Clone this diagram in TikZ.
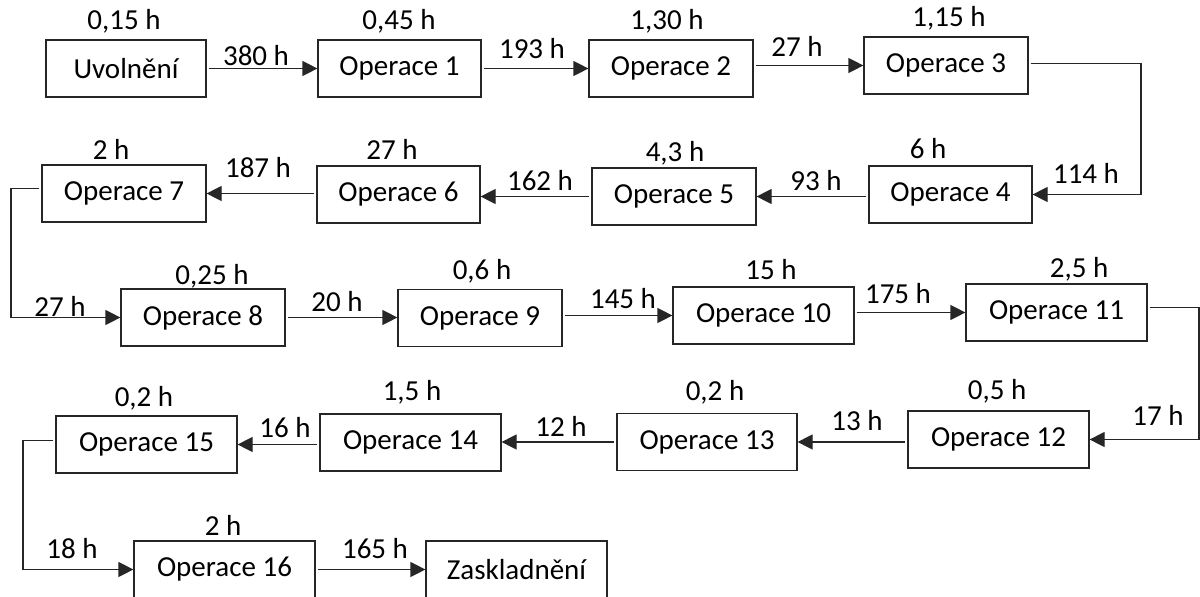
\documentclass[tikz,border=0pt]{standalone}
\usepackage{fontspec}
\setmainfont{Carlito}
\usetikzlibrary{arrows.meta}
\begin{document}
\begin{tikzpicture}[x=1pt,y=-1pt,
  box/.style={draw=black!85,line width=1.2pt,minimum height=57pt,inner sep=0pt,
    font=\fontsize{29}{34}\selectfont},
  lbl/.style={inner sep=0pt,font=\fontsize{29}{34}\selectfont},
  arr/.style={draw=black!85,line width=1.2pt,shorten <=2pt,-{Triangle[length=15pt,width=15pt]}}]
\useasboundingbox (0,0) rectangle (1200,597);
% row 1
\node[box,minimum width=160pt] (u)  at (126,68.5) {Uvolnění};
\node[box,minimum width=163pt] (o1) at (399.5,68.5) {Operace 1};
\node[box,minimum width=164pt] (o2) at (671,68.5) {Operace 2};
\node[box,minimum width=164pt] (o3) at (946,65.5) {Operace 3};
% row 2
\node[box,minimum width=163pt] (o4) at (950.5,194.5) {Operace 4};
\node[box,minimum width=164pt] (o5) at (674,196.5) {Operace 5};
\node[box,minimum width=163pt] (o6) at (398.5,194.5) {Operace 6};
\node[box,minimum width=164pt] (o7) at (124,193.5) {Operace 7};
% row 3
\node[box,minimum width=164pt] (o8)  at (203,317.5) {Operace 8};
\node[box,minimum width=164pt] (o9)  at (480,318) {Operace 9};
\node[box,minimum width=181pt] (o10) at (763.5,315.5) {Operace 10};
\node[box,minimum width=181pt] (o11) at (1056.5,312.5) {Operace 11};
% row 4
\node[box,minimum width=181pt] (o12) at (998.5,439.5) {Operace 12};
\node[box,minimum width=180pt] (o13) at (707,442) {Operace 13};
\node[box,minimum width=181pt] (o14) at (410.5,442.5) {Operace 14};
\node[box,minimum width=181pt] (o15) at (146.5,444.5) {Operace 15};
% row 5
\node[box,minimum width=181pt] (o16) at (224.5,569.5) {Operace 16};
\node[box,minimum width=181pt] (z)   at (516.5,569.5) {Zaskladnění};
% time labels above boxes
\node[lbl] (tu)  at (124,21) {0,15 h};
\node[lbl] (t1)  at (399,21) {0,45 h};
\node[lbl] (t2)  at (667,21) {1,30 h};
\node[lbl] (t3)  at (949,18) {1,15 h};
\node[lbl] (t4)  at (928,149) {6 h};
\node[lbl] (t5)  at (675,153) {4,3 h};
\node[lbl] (t6)  at (392,149) {27 h};
\node[lbl] (t7)  at (111,149) {2 h};
\node[lbl] (t8)  at (212,276) {0,25 h};
\node[lbl] (t9)  at (482,271) {0,6 h};
\node[lbl] (t10) at (771,270) {15 h};
\node[lbl] (t11) at (1079,269) {2,5 h};
\node[lbl] (t12) at (997,391) {0,5 h};
\node[lbl] (t13) at (715,392) {0,2 h};
\node[lbl] (t14) at (412,392) {1,5 h};
\node[lbl] (t15) at (144,398) {0,2 h};
\node[lbl] (t16) at (223,525) {2 h};
% transfer labels
\node[lbl] (a1)  at (256,56) {380 h};
\node[lbl] (a2)  at (532,49) {193 h};
\node[lbl] (a3)  at (797,46) {27 h};
\node[lbl] (a4)  at (1086,173) {114 h};
\node[lbl] (a5)  at (816,181) {93 h};
\node[lbl] (a6)  at (540,181) {162 h};
\node[lbl] (a7)  at (258,168) {187 h};
\node[lbl] (a8)  at (60,306) {27 h};
\node[lbl] (a9)  at (337,302) {20 h};
\node[lbl] (a10) at (623,299) {145 h};
\node[lbl] (a11) at (898,294) {175 h};
\node[lbl] (a12) at (1158,415) {17 h};
\node[lbl] (a13) at (857,421) {13 h};
\node[lbl] (a14) at (561,426) {12 h};
\node[lbl] (a15) at (285,428) {16 h};
\node[lbl] (a16) at (72,549) {18 h};
\node[lbl] (a17) at (375,549) {165 h};
% bend coordinates
\coordinate (c3)  at (1141,130);
\coordinate (c7)  at (11,250);
\coordinate (c11) at (1199,370);
\coordinate (c15) at (23,500);
% connectors
\draw[arr] (u.east) -- (o1.west);
\draw[arr] (o1.east) -- (o2.west);
\draw[arr] (o2.east |- o3.west) -- (o3.west);
\draw[arr] ([yshift=2pt]o3.east) -| (c3) |- (o4.east);
\draw[arr] (o4.west |- o5.east) -- (o5.east);
\draw[arr] (o5.west) -- (o5.west -| o6.east);
\draw[arr] (o6.west |- o7.east) -- (o7.east);
\draw[arr] ([yshift=5pt]o7.west) -| (c7) |- (o8.west);
\draw[arr] (o8.east) -- (o8.east -| o9.west);
\draw[arr] (o9.east |- o10.west) -- (o10.west);
\draw[arr] (o10.east |- o11.west) -- (o11.west);
\draw[arr] ([yshift=5pt]o11.east) -| (c11) |- (o12.east);
\draw[arr] (o12.west |- o13.east) -- (o13.east);
\draw[arr] (o13.west) -- (o13.west -| o14.east);
\draw[arr] (o14.west |- o15.east) -- (o15.east);
\draw[arr] ([yshift=4pt]o15.west) -| (c15) |- (o16.west);
\draw[arr] (o16.east) -- (z.west);
\end{tikzpicture}
\end{document}
